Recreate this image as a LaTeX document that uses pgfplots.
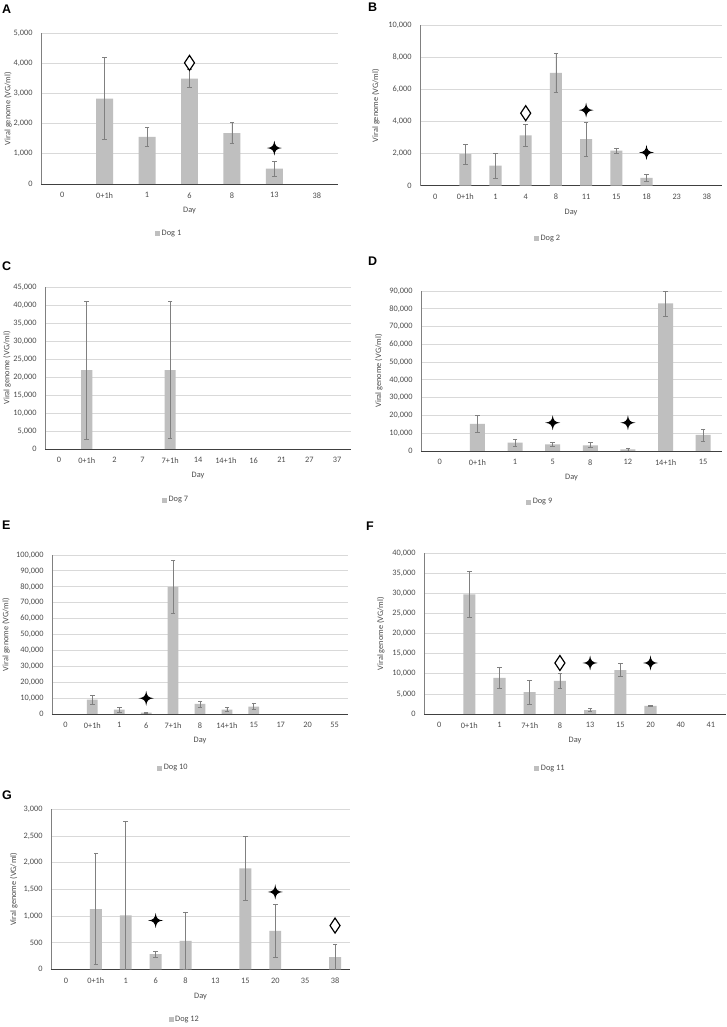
\documentclass[border=0pt]{standalone}
\usepackage{fontspec}
\setmainfont{Carlito}
\newfontfamily\letterfont{Liberation Sans}
\usepackage{pgfplots}
\pgfplotsset{compat=1.18}

\pgfdeclareplotmark{fourstar}{%
  \pgfpathmoveto{\pgfqpoint{0pt}{\pgfplotmarksize}}%
  \pgfpathcurveto{\pgfqpoint{0.08\pgfplotmarksize}{0.3\pgfplotmarksize}}{\pgfqpoint{0.3\pgfplotmarksize}{0.08\pgfplotmarksize}}{\pgfqpoint{\pgfplotmarksize}{0pt}}%
  \pgfpathcurveto{\pgfqpoint{0.3\pgfplotmarksize}{-0.08\pgfplotmarksize}}{\pgfqpoint{0.08\pgfplotmarksize}{-0.3\pgfplotmarksize}}{\pgfqpoint{0pt}{-\pgfplotmarksize}}%
  \pgfpathcurveto{\pgfqpoint{-0.08\pgfplotmarksize}{-0.3\pgfplotmarksize}}{\pgfqpoint{-0.3\pgfplotmarksize}{-0.08\pgfplotmarksize}}{\pgfqpoint{-\pgfplotmarksize}{0pt}}%
  \pgfpathcurveto{\pgfqpoint{-0.3\pgfplotmarksize}{0.08\pgfplotmarksize}}{\pgfqpoint{-0.08\pgfplotmarksize}{0.3\pgfplotmarksize}}{\pgfqpoint{0pt}{\pgfplotmarksize}}%
  \pgfpathclose
  \pgfusepathqfill
}
\pgfdeclareplotmark{lozenge}{%
  \pgfpathmoveto{\pgfqpoint{0pt}{1.5\pgfplotmarksize}}%
  \pgfpathlineto{\pgfqpoint{\pgfplotmarksize}{0pt}}%
  \pgfpathlineto{\pgfqpoint{0pt}{-1.5\pgfplotmarksize}}%
  \pgfpathlineto{\pgfqpoint{-\pgfplotmarksize}{0pt}}%
  \pgfpathclose
  \pgfusepathqfillstroke
}
\pgfdeclareplotmark{hcap}{%
  \pgfpathmoveto{\pgfqpoint{-\pgfplotmarksize}{0pt}}%
  \pgfpathlineto{\pgfqpoint{\pgfplotmarksize}{0pt}}%
  \pgfusepathqstroke
}

\pgfplotsset{
  panel/.style={
    scale only axis,
    anchor=south west,
    ymin=0, xmin=-0.5,
    axis lines=left,
    x axis line style={-, black!75, line width=0.8pt},
    y axis line style={-, black!50, line width=0.8pt},
    major tick length=0pt,
    ymajorgrids,
    grid style={black!15, line width=0.8pt},
    scaled y ticks=false,
    /pgf/number format/assume math mode=true,
    /pgf/number format/fixed,
    /pgf/number format/1000 sep={,},
    ticklabel style={font=\fontsize{8.3}{10}\selectfont, text=black!70},
    xticklabel style={yshift=-5pt},
    yticklabel style={xshift=-5pt},
    xlabel={Day},
    ylabel={Viral genome (VG/ml)},
    label style={font=\fontsize{8.3}{10}\selectfont, text=black!70},
    xlabel style={at={(axis description cs:0.5,0)}, anchor=center, yshift=-27pt},
    legend style={draw=none, fill=none, anchor=west, inner sep=0pt,
      font=\fontsize{8.3}{10}\selectfont, text=black!70,
      nodes={inner sep=1.5pt}},
    legend image code/.code={\fill[black!25] (0pt,-2.5pt) rectangle (5pt,2.5pt);},
  },
  bars/.style={ybar, bar width=0.4, fill=black!25, draw=none,
    error bars/.cd, y dir=both, y explicit,
    error mark=hcap,
    error bar style={black!50, line width=0.7pt},
    error mark options={rotate=90, black!50, line width=0.7pt, mark size=2.3pt}},
  star/.style={only marks, mark=fourstar, mark size=7.5pt, black, forget plot},
  loz/.style={only marks, mark=lozenge, mark size=5pt, forget plot,
    mark options={draw=black, fill=white, line width=1.2pt}},
}

\begin{document}
\begin{tikzpicture}
\fill[white] (0pt,0pt) rectangle (727pt,1027pt);
\path[use as bounding box] (0pt,0pt) rectangle (727pt,1027pt);

\tikzset{letter/.style={anchor=north west, inner sep=0pt, font=\letterfont\bfseries\fontsize{12.5}{13}\selectfont}}
\node[letter] at (2pt,1022pt) {A};
\node[letter] at (368pt,1024pt) {B};
\node[letter] at (2pt,765pt) {C};
\node[letter] at (368pt,770pt) {D};
\node[letter] at (2pt,506pt) {E};
\node[letter] at (366pt,505pt) {F};
\node[letter] at (2pt,236pt) {G};

% A
\begin{axis}[panel, at={(41pt,843pt)}, width=297pt, height=151pt,
  xmax=6.5, xtick={0,...,6}, xticklabels={0,0+1h,1,6,8,13,38},
  ymax=5000, ytick distance=1000,
  ylabel style={at={(axis description cs:-0.111,0.5)}, anchor=center},
  legend style={at={(axis description cs:0.384,-0.331)}}]
\addplot[bars] coordinates {(1,2830) +- (0,1350) (2,1560) +- (0,305) (3,3485) +- (0,300) (4,1685) +- (0,340) (5,505) +- (0,240)};
\addlegendentry{Dog 1}
\addplot[loz] coordinates {(3,4010)};
\addplot[star] coordinates {(5,1190)};
\end{axis}

% B
\begin{axis}[panel, at={(420pt,841.3pt)}, width=302pt, height=160.4pt,
  xmax=9.5, xtick={0,...,9}, xticklabels={0,0+1h,1,4,8,11,15,18,23,38},
  ymax=10000, ytick distance=2000,
  ylabel style={at={(axis description cs:-0.146,0.5)}, anchor=center},
  legend style={at={(axis description cs:0.377,-0.331)}}]
\addplot[bars] coordinates {(1,1960) +- (0,620) (2,1250) +- (0,770) (3,3140) +- (0,680) (4,7030) +- (0,1210) (5,2910) +- (0,1050) (6,2180) +- (0,170) (7,480) +- (0,210)};
\addlegendentry{Dog 2}
\addplot[loz] coordinates {(3,4520)};
\addplot[star] coordinates {(5,4710) (7,2070)};
\end{axis}

% C
\begin{axis}[panel, at={(45pt,578pt)}, width=306pt, height=162pt,
  xmax=10.5, xtick={0,...,10}, xticklabels={0,0+1h,2,7,7+1h,14,14+1h,16,21,27,37},
  ymax=45000, ytick distance=5000,
  ylabel style={at={(axis description cs:-0.124,0.5)}, anchor=center},
  legend style={at={(axis description cs:0.382,-0.315)}}]
\addplot[bars] coordinates {(1,21900) +- (0,19100) (4,21900) +- (0,19000)};
\addlegendentry{Dog 7}
\end{axis}

% D
\begin{axis}[panel, at={(421pt,576pt)}, width=301pt, height=160pt,
  xmax=7.5, xtick={0,...,7}, xticklabels={0,0+1h,1,5,8,12,14+1h,15},
  ymax=90000, ytick distance=10000,
  ylabel style={at={(axis description cs:-0.140,0.5)}, anchor=center},
  legend style={at={(axis description cs:0.349,-0.319)}}]
\addplot[bars] coordinates {(1,15200) +- (0,4900) (2,4700) +- (0,1900) (3,3700) +- (0,1300) (4,3200) +- (0,1400) (5,900) +- (0,850) (6,83000) +- (0,7000) (7,9000) +- (0,3400)};
\addlegendentry{Dog 9}
\addplot[star] coordinates {(3,15900) (5,15900)};
\end{axis}

% E
\begin{axis}[panel, at={(52pt,313pt)}, width=296pt, height=159pt,
  xmax=10.5, xtick={0,...,10}, xticklabels={0,0+1h,1,6,7+1h,8,14+1h,15,17,20,55},
  ymax=100000, ytick distance=10000,
  ylabel style={at={(axis description cs:-0.155,0.5)}, anchor=center},
  legend style={at={(axis description cs:0.355,-0.340)}}]
\addplot[bars] coordinates {(1,9000) +- (0,2700) (2,2700) +- (0,1600) (3,800) +- (0,300) (4,80000) +- (0,16800) (5,6300) +- (0,1900) (6,2700) +- (0,1250) (7,4600) +- (0,1900)};
\addlegendentry{Dog 10}
\addplot[star] coordinates {(3,9900)};
\end{axis}

% F
\begin{axis}[panel, at={(424pt,313pt)}, width=302pt, height=160.7pt,
  xmax=9.5, xtick={0,...,9}, xticklabels={0,0+1h,1,7+1h,8,13,15,20,40,41},
  ymax=40000, ytick distance=5000,
  ylabel style={at={(axis description cs:-0.143,0.5)}, anchor=center},
  legend style={at={(axis description cs:0.365,-0.340)}}]
\addplot[bars] coordinates {(1,29800) +- (0,5800) (2,9000) +- (0,2700) (3,5450) +- (0,2950) (4,8250) +- (0,1750) (5,950) +- (0,370) (6,10900) +- (0,1600) (7,2000) +- (0,200)};
\addlegendentry{Dog 11}
\addplot[loz] coordinates {(4,12700)};
\addplot[star] coordinates {(5,12700) (7,12700)};
\end{axis}

% G
\begin{axis}[panel, at={(51pt,57.7pt)}, width=299pt, height=160pt,
  xmax=9.5, xtick={0,...,9}, xticklabels={0,0+1h,1,6,8,13,15,20,35,38},
  ymax=3000, ytick distance=500,
  ylabel style={at={(axis description cs:-0.124,0.5)}, anchor=center},
  legend style={at={(axis description cs:0.393,-0.314)}}]
\addplot[bars] coordinates {(1,1130) +- (0,1040) (2,1010) +- (0,1770) (3,285) +- (0,60) (4,535) +- (0,540) (6,1890) +- (0,600) (7,720) +- (0,490) (9,230) +- (0,245)};
\addlegendentry{Dog 12}
\addplot[star] coordinates {(3,915) (7,1450)};
\addplot[loz] coordinates {(9,820)};
\end{axis}
\end{tikzpicture}
\end{document}
